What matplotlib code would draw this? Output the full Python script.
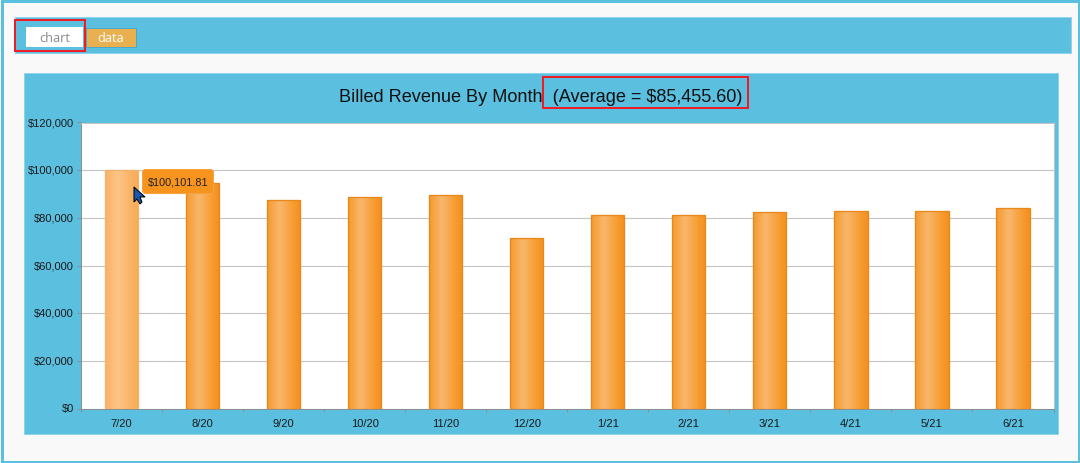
import numpy as np
import matplotlib
matplotlib.use('Agg')
import matplotlib.pyplot as plt
from matplotlib.patches import Rectangle, FancyBboxPatch, Polygon
from matplotlib.colors import LinearSegmentedColormap
from matplotlib.transforms import ScaledTranslation

months = ['7/20', '8/20', '9/20', '10/20', '11/20', '12/20',
          '1/21', '2/21', '3/21', '4/21', '5/21', '6/21']
revenue = [100101.81, 94600, 87600, 88600, 89450, 71670,
           81060, 81060, 82300, 82730, 82730, 84100]
yticks = [0, 20000, 40000, 60000, 80000, 100000, 120000]
ylabels = ['$0', '$20,000', '$40,000', '$60,000', '$80,000', '$100,000', '$120,000']

W, H = 1080, 464
BLUE = '#5bbfe0'
PX = 0.72  # one pixel in points
plt.rcParams['font.family'] = ['Liberation Sans', 'DejaVu Sans']

fig = plt.figure(figsize=(W / 100, H / 100), dpi=100, facecolor='#f9f9f9')

# page furniture, in pixel coordinates
bg = fig.add_axes([0, 0, 1, 1], zorder=0)
bg.set_xlim(0, W)
bg.set_ylim(H, 0)
bg.axis('off')
bg.add_patch(Rectangle((1.5, 1.5), W - 3, H - 3, fc='none', ec=BLUE, lw=3 * PX))
bg.add_patch(Rectangle((14.5, 17.5), 1056, 36, fc=BLUE, ec='#8fd3ea', lw=PX))
bg.add_patch(Rectangle((23.5, 73.5), 1034, 361, fc=BLUE, ec='#8fd3ea', lw=PX))
bg.add_patch(Rectangle((26, 28), 57, 20, fc='white', ec='none'))
bg.add_patch(Rectangle((86, 29), 50, 19, fc='#e8b04e', ec='#4aa8c8', lw=PX))
bg.text(54.5, 38.5, 'chart', color='#85898c', fontsize=9.2, ha='center', va='center',
        family=['Open Sans', 'DejaVu Sans'])
bg.text(110.5, 38.5, 'data', color='white', fontsize=9.2, ha='center', va='center',
        family=['Open Sans', 'DejaVu Sans'])
bg.text(339, 97.5, 'Billed Revenue By Month  (Average = $85,455.60)', color='#111111',
        fontsize=13.05, ha='left', va='center')

ax = fig.add_axes([81 / W, 1 - 409.5 / H, 972.5 / W, 286 / H], zorder=1)
ax.set_facecolor('white')
ax.set_xlim(0, len(months))
ax.set_ylim(0, 120000)
ax.set_yticks(yticks, ylabels)
ax.set_xticks(np.arange(len(months) + 1))
ax.set_xticklabels([])
ax.set_xticks(np.arange(len(months)) + 0.5, months, minor=True)
ax.tick_params(axis='x', which='minor', length=0, labelsize=8, pad=6.7, labelcolor='#1a1a1a')
ax.tick_params(axis='x', which='major', length=2.2, width=PX, color='#8a8f92')
ax.tick_params(axis='y', length=3, width=PX, color='#8a8f92', labelsize=8, pad=2,
               labelcolor='#1a1a1a')
ax.grid(axis='y', color='#c4c4c4', lw=1.1 * PX)
ax.set_axisbelow(True)
for name, spine in ax.spines.items():
    spine.set_color('#8a8f92' if name in ('left', 'bottom') else '#c4c4c4')
    spine.set_linewidth(PX)

# y labels sit a little above their ticks in the original
nudge = ScaledTranslation(0, 1.2 / 100, fig.dpi_scale_trans)
for label in ax.get_yticklabels():
    label.set_transform(label.get_transform() + nudge)

normal = LinearSegmentedColormap.from_list(
    'normal', [(0, '#f49a2e'), (0.38, '#f9b76c'), (0.8, '#f79a2e'), (1, '#f3901f')])
hover = LinearSegmentedColormap.from_list(
    'hover', [(0, '#f8b263'), (0.38, '#fcc588'), (0.8, '#f8b263'), (1, '#f7ab55')])
grad = np.linspace(0, 1, 64).reshape(1, -1)

bars = ax.bar(np.arange(len(months)) + 0.5, revenue, width=0.41, fc='none',
              ec='#e8871a', lw=1.3 * PX, zorder=3)
for i, bar in enumerate(bars):
    cmap = hover if i == 0 else normal
    if i == 0:
        bar.set_edgecolor('#f5b26c')
    ax.imshow(grad, cmap=cmap, aspect='auto', zorder=2.5,
              extent=(bar.get_x(), bar.get_x() + bar.get_width(), 0, bar.get_height()))
ax.set_xlim(0, len(months))
ax.set_ylim(0, 120000)

# tooltip, cursor and the red annotation boxes go over everything
top = fig.add_axes([0, 0, 1, 1], zorder=2)
top.set_xlim(0, W)
top.set_ylim(H, 0)
top.axis('off')
top.patch.set_alpha(0)
top.add_patch(FancyBboxPatch((142.5, 170.5), 71, 24, boxstyle='round,pad=0,rounding_size=3',
                             fc='#f7941e', ec='#f5a23f', lw=PX))
top.text(178.5, 182.5, '$100,101.81', color='#222222', fontsize=7.8, ha='center', va='center')
top.add_patch(Polygon([(134, 188), (134, 203), (137, 200), (140, 205), (142, 203),
                       (140, 198), (145, 198)], fc='#1c55b0', ec='black', lw=PX))
for x0, y0, w, h in [(14.5, 20.5, 70, 31), (542.5, 77.5, 205, 31)]:
    top.add_patch(Rectangle((x0, y0), w, h, fc='none', ec='#ee1c25', lw=2 * PX))

fig.savefig('out.png', dpi=100, facecolor=fig.get_facecolor())
